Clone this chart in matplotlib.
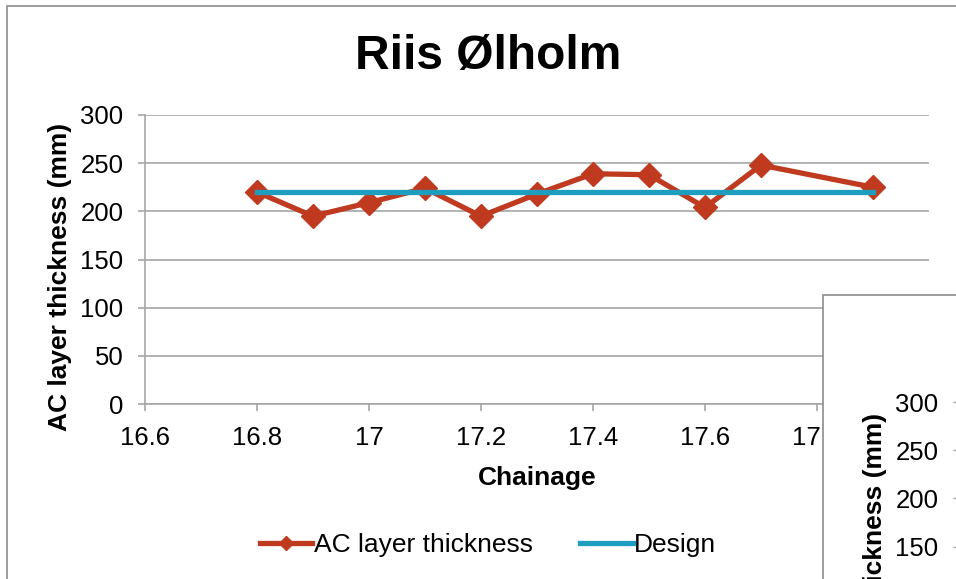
import numpy as np
import matplotlib
matplotlib.use("Agg")
from matplotlib import pyplot as plt
from matplotlib.patches import Rectangle

plt.rcParams['font.family'] = ['Liberation Sans', 'DejaVu Sans']

# chainage (km) and measured AC layer thickness (mm)
chainage = [16.8, 16.9, 17.0, 17.1, 17.2, 17.3, 17.4, 17.5, 17.6, 17.7, 17.9]
thickness = [220, 195, 209, 224, 195, 218, 239, 238, 204, 248, 225]
design_chainage = [16.8, 17.9]
design_thickness = [220, 220]

x_ticks = [16.6, 16.8, 17.0, 17.2, 17.4, 17.6, 17.8, 18.0]
x_tick_labels = ['16.6', '16.8', '17', '17.2', '17.4', '17.6', '17.8', '18']
y_ticks = [0, 50, 100, 150, 200, 250, 300]

red = '#BF3A1F'
teal = '#1E9EBE'
grid_grey = '#A6A6A6'

W, H = 956, 579
fig = plt.figure(figsize=(W / 100, H / 100), dpi=100)

def px_box(x0, y0, x1, y1):
    # pixel box (top-left origin) -> figure fraction [left, bottom, width, height]
    return [x0 / W, (H - y1) / H, (x1 - x0) / W, (y1 - y0) / H]

# chart area border
fig.patches.append(Rectangle((7 / W, -0.1), 1.2, (H - 6) / H + 0.1,
                             transform=fig.transFigure, fill=False,
                             edgecolor='#8C8C8C', linewidth=1.2))

ax = fig.add_axes(px_box(145, 115, 929, 404))
ax.plot(chainage, thickness, color=red, linewidth=3.8, marker='D',
        markersize=12.5, label='AC layer thickness', zorder=3)
ax.plot(design_chainage, design_thickness, color=teal, linewidth=3.8,
        label='Design', zorder=4)

ax.set_xlim(16.6, 18.0)
ax.set_ylim(0, 300)
ax.set_xticks(x_ticks)
ax.set_xticklabels(x_tick_labels)
ax.set_yticks(y_ticks)
ax.yaxis.grid(True, color=grid_grey, linewidth=1.2)
ax.set_axisbelow(True)
for side in ['top', 'right']:
    ax.spines[side].set_visible(False)
for side in ['left', 'bottom']:
    ax.spines[side].set_color(grid_grey)
    ax.spines[side].set_linewidth(1.2)
ax.tick_params(axis='both', direction='out', length=5, width=1.2,
               color=grid_grey, labelsize=18.5, pad=10.5)
ax.tick_params(axis='x', pad=11)

ax.set_xlabel('Chainage', fontsize=19, fontweight='bold', labelpad=11)
ax.set_ylabel('AC layer thickness (mm)', fontsize=19, fontweight='bold', labelpad=6)
ax.yaxis.label.set_y(0.44)
fig.text(488 / W, 1 - 57 / H, 'Riis Ølholm', fontsize=34.5, fontweight='bold',
         ha='center', va='center')

ax.legend(loc='center', bbox_to_anchor=(488 / W, 1 - 545 / H),
          bbox_transform=fig.transFigure, ncol=2, frameon=False,
          fontsize=19, handlelength=2.0, handletextpad=0.05,
          columnspacing=1.8, markerscale=0.6)

# neighbouring chart, overlapping the lower right corner
fig.patches.append(Rectangle((823 / W, -0.1), 0.5, (H - 295) / H + 0.1,
                             transform=fig.transFigure, facecolor='white',
                             edgecolor='#8C8C8C', linewidth=1.2, zorder=5))
ax2 = fig.add_axes(px_box(960, 402, 1700, 691))
ax2.set_zorder(6)
ax2.patch.set_visible(False)
ax2.set_ylim(0, 300)
ax2.set_yticks(y_ticks)
ax2.set_xticks([])
for side in ['top', 'right', 'bottom', 'left']:
    ax2.spines[side].set_visible(False)
ax2.tick_params(axis='y', direction='out', length=5, width=1.0,
                color=grid_grey, labelsize=18.5, pad=10.5)
ax2.set_ylabel('AC layer thickness (mm)', fontsize=19, fontweight='bold', labelpad=6)
ax2.yaxis.label.set_y(0.43)

fig.savefig('out.png', dpi=100)
